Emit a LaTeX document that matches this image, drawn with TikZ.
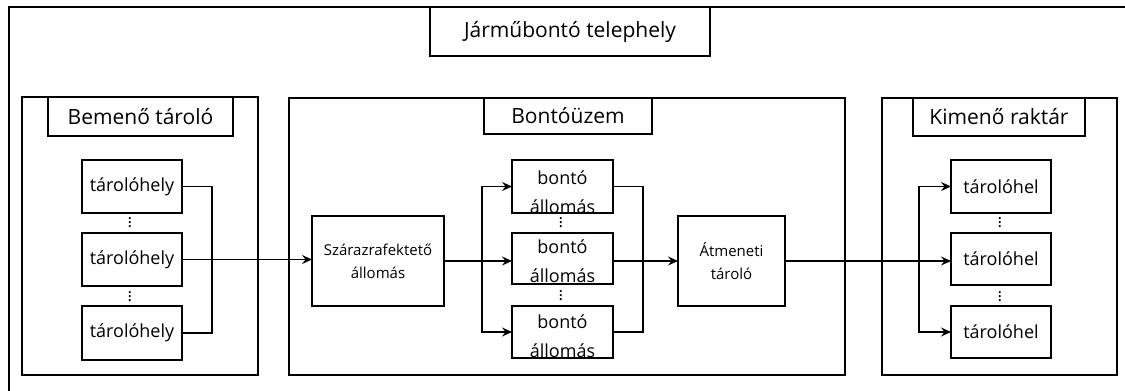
\documentclass[tikz,border=0pt]{standalone}
\usepackage{fontspec}
\setmainfont{Open Sans}
\usetikzlibrary{arrows.meta}
\begin{document}
\begin{tikzpicture}[x=1pt,y=-1pt,
  group/.style={draw, line width=2.2pt, inner sep=0pt, outer sep=0pt},
  titlebox/.style={draw, line width=2.2pt, inner sep=0pt, outer sep=0pt, font=\fontsize{21}{24}\selectfont},
  item/.style={draw, line width=2.2pt, inner sep=0pt, outer sep=0pt, font=\fontsize{18}{20}\selectfont},
  small/.style={draw, line width=2.2pt, inner sep=0pt, outer sep=0pt, align=center, font=\fontsize{15}{23}\selectfont},
  dots/.style={inner sep=0pt, font=\fontsize{17}{17}\selectfont},
  conn/.style={line width=1.4pt},
  arr/.style={line width=1.4pt, -{Stealth[length=10pt,width=9pt,inset=3.5pt]}}]
\useasboundingbox (0,0) rectangle (1125,391);
% outer frame (cropped at right and bottom)
\coordinate (o1) at (9,391);
\coordinate (o2) at (9,7);
\coordinate (o3) at (1125,7);
\draw[line width=2.2pt] (o1) -- (o2) -- (o3);
\node[titlebox, minimum width=280pt, minimum height=49pt] (T) at (570,31.5) {Járműbontó telephely};
% group 1
\node[group, minimum width=236pt, minimum height=278pt] (G1) at (140,236) {};
\node[titlebox, minimum width=185pt, minimum height=39pt] (T1) at (140.5,116.5) {Bemenő tároló};
\node[item, minimum width=100pt, minimum height=53pt] (a1) at (132,186.5) {tárolóhely};
\node[item, minimum width=100pt, minimum height=53pt] (a2) at (132,259.5) {tárolóhely};
\node[item, minimum width=100pt, minimum height=54pt] (a3) at (132,333) {tárolóhely};
\node[dots] (ad1) at (130,220) {$\vdots$};
\node[dots] (ad2) at (130,294) {$\vdots$};
% group 2
\node[group, minimum width=556pt, minimum height=277pt] (G2) at (567,236.5) {};
\node[titlebox, minimum width=168pt, minimum height=36pt] (T2) at (568,116) {Bontóüzem};
\node[small, minimum width=132pt, minimum height=90pt] (S) at (378,261) {Szárazrafektető\\állomás};
\node[draw, line width=2.2pt, inner sep=0pt, outer sep=0pt, minimum width=101pt, minimum height=53pt] (b1) at (562.5,186.5) {};
\node[draw, line width=2.2pt, inner sep=0pt, outer sep=0pt, minimum width=101pt, minimum height=51pt] (b2) at (562.5,258.5) {};
\node[draw, line width=2.2pt, inner sep=0pt, outer sep=0pt, minimum width=101pt, minimum height=52pt] (b3) at (562.5,332) {};
\foreach \b/\s in {b1/-11pt,b2/-7pt,b3/-9pt}{
  \begin{scope}
    \clip ([shift={(1pt,1pt)}]\b.south west) rectangle ([shift={(-1pt,-1pt)}]\b.north east);
    \node[anchor=north, align=center, inner sep=0pt, font=\fontsize{18}{29}\selectfont] (\b t) at ([yshift=\s]\b.north) {bontó\\állomás};
  \end{scope}
}
\node[dots] (bd1) at (561,220) {$\vdots$};
\node[dots] (bd2) at (561,293) {$\vdots$};
\node[small, minimum width=107pt, minimum height=90pt] (A) at (731.5,261) {Átmeneti\\tároló};
% group 3
\node[group, minimum width=235pt, minimum height=277pt] (G3) at (999.5,236.5) {};
\node[titlebox, minimum width=172pt, minimum height=38pt] (T3) at (999,117) {Kimenő raktár};
\node[item, minimum width=100pt, minimum height=53pt] (c1) at (1001,186.5) {tárolóhel};
\node[item, minimum width=100pt, minimum height=52pt] (c2) at (1001,259) {tárolóhel};
\node[item, minimum width=100pt, minimum height=52pt] (c3) at (1001,332) {tárolóhel};
\node[dots] (cd1) at (1000,220) {$\vdots$};
\node[dots] (cd2) at (1000,294) {$\vdots$};
% connectors
\coordinate (j1) at (212,260);
\draw[conn] (a1.east) -| (j1) |- (a3.east);
\draw[arr] (a2.east) -- (a2.east -| S.west);
\coordinate (j2) at (482,261);
\draw[conn] (S.east) -- (j2);
\draw[arr] (j2) |- (b1.west);
\draw[arr] (j2) |- (b3.west);
\draw[arr] (j2) -- (j2 -| b2.west);
\coordinate (j3) at (643,261);
\draw[conn] (b1.east) -| (j3) |- (b3.east);
\draw[arr] (b2.east |- j3) -- (A.west);
\coordinate (j4) at (919,261);
\draw[conn] (A.east) -- (j4);
\draw[arr] (j4) |- (c1.west);
\draw[arr] (j4) |- (c3.west);
\draw[arr] (j4) -- (j4 -| c2.west);
\end{tikzpicture}
\end{document}
